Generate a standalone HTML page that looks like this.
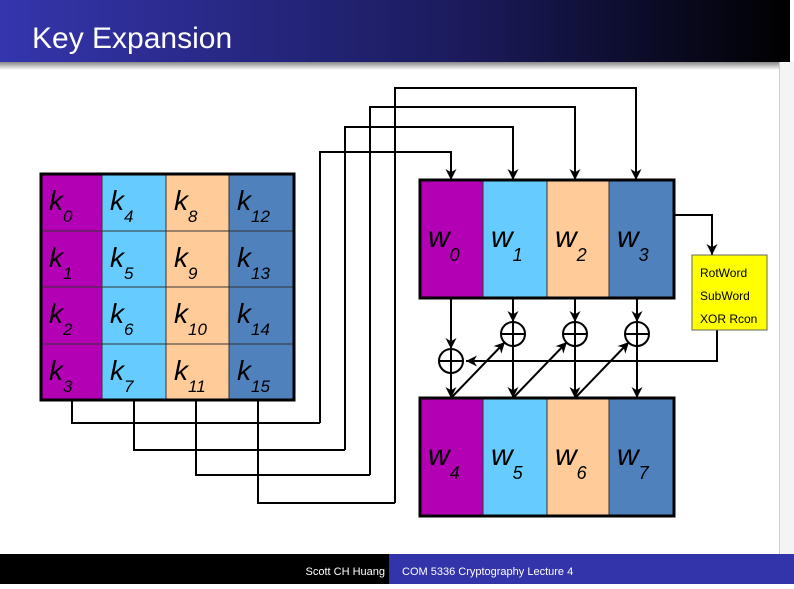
<!DOCTYPE html>
<html><head><meta charset="utf-8"><style>
body{margin:0;width:794px;height:584px;overflow:hidden;background:#fff;font-family:"Liberation Sans",sans-serif}
</style></head><body>
<svg width="794" height="584" xmlns="http://www.w3.org/2000/svg">
<defs>
<linearGradient id="hg" x1="0" x2="1"><stop offset="0" stop-color="#3535ad"/><stop offset="0.6" stop-color="#1a1a5a"/><stop offset="1" stop-color="#000"/></linearGradient>
<linearGradient id="sh" x1="0" y1="0" x2="0" y2="1"><stop offset="0" stop-color="#888"/><stop offset="1" stop-color="#fff"/></linearGradient>
<marker id="ar" viewBox="0 0 10 10" refX="10" refY="5" markerWidth="11" markerHeight="11" orient="auto-start-reverse" markerUnits="userSpaceOnUse"><path d="M0,0 L10,5 L0,10 L3,5 z" fill="#000"/></marker>
</defs>
<rect x="0" y="62" width="794" height="8" fill="url(#sh)"/>
<rect x="0" y="0" width="790" height="62" fill="url(#hg)"/>
<text x="32" y="48" fill="#fff" font-size="30" font-family="Liberation Sans,sans-serif">Key Expansion</text>
<rect x="780" y="62" width="14" height="492" fill="#f4f4f4"/>
<line x1="779.5" y1="62" x2="779.5" y2="554" stroke="#ccc"/>
<g id="kg"></g>
<g id="wg"></g>
<g fill="none" stroke="#000" stroke-width="2">
<polyline points="320,423 320,152 451,152 451,180" marker-end="url(#ar)"/>
<polyline points="345,450 345,127 513,127 513,180" marker-end="url(#ar)"/>
<polyline points="370,475 370,107 575,107 575,180" marker-end="url(#ar)"/>
<polyline points="395,503 395,88 636,88 636,180" marker-end="url(#ar)"/>
<polyline points="72,400 72,423 320,423"/>
<polyline points="134,400 134,450 345,450"/>
<polyline points="196,400 196,475 370,475"/>
<polyline points="258,400 258,503 395,503"/>
<polyline points="675,215 712,215 712,255" marker-end="url(#ar)"/>
<polyline points="717,330 717,361 466,361" marker-end="url(#ar)"/>
<line x1="451" y1="298" x2="451" y2="349" marker-end="url(#ar)"/>
<line x1="451" y1="373" x2="451" y2="398" marker-end="url(#ar)"/>
<line x1="513" y1="298" x2="513" y2="322" marker-end="url(#ar)"/>
<line x1="575" y1="298" x2="575" y2="322" marker-end="url(#ar)"/>
<line x1="637" y1="298" x2="637" y2="322" marker-end="url(#ar)"/>
<line x1="513" y1="346" x2="513" y2="398" marker-end="url(#ar)"/>
<line x1="575" y1="346" x2="575" y2="398" marker-end="url(#ar)"/>
<line x1="637" y1="346" x2="637" y2="398" marker-end="url(#ar)"/>
<line x1="451" y1="398" x2="505" y2="342" marker-end="url(#ar)"/>
<line x1="513" y1="398" x2="567" y2="342" marker-end="url(#ar)"/>
<line x1="575" y1="398" x2="629" y2="342" marker-end="url(#ar)"/>
</g>
<g id="xors"></g>
<rect x="692" y="255" width="75" height="75" fill="#ffff00" stroke="#666"/>
<text x="700" y="277" font-size="12">RotWord</text>
<text x="700" y="300" font-size="12">SubWord</text>
<text x="700" y="323" font-size="12">XOR Rcon</text>
<rect x="0" y="554" width="389" height="30" fill="#000"/>
<rect x="389" y="554" width="405" height="30" fill="#3333aa"/>
<text x="385" y="575" fill="#fff" font-size="11" text-anchor="end">Scott CH Huang</text>
<text x="402" y="575" fill="#fff" font-size="11">COM 5336 Cryptography Lecture 4</text>
</svg>
<script>
const colors=["#b400b4","#66ccff","#ffcc99","#4f81bd"];
const NS="http://www.w3.org/2000/svg";
function mk(t,a,p){const e=document.createElementNS(NS,t);for(const k in a)e.setAttribute(k,a[k]);p.appendChild(e);return e;}
const kg=document.getElementById('kg');
const kx=[41,102,166,229,294], ky=[174,231,287,344,400];
for(let c=0;c<4;c++)for(let r=0;r<4;r++){
 const rc=mk('rect',{x:kx[c],y:ky[r],width:kx[c+1]-kx[c],height:ky[r+1]-ky[r],fill:colors[c],stroke:'#333','stroke-width':1},kg);
 
 
 const t=mk('text',{x:kx[c]+8,y:ky[r]+36,'font-size':28,'font-style':'italic'},kg);
 
 
 t.innerHTML='k<tspan font-size="17" dy="12">'+(c*4+r)+'</tspan>';
}
mk('rect',{x:41,y:174,width:253,height:226,fill:'none',stroke:'#000','stroke-width':3},kg);
const wg=document.getElementById('wg');
const wx=[420,483,547,609,674];
[[180,298,0],[398,516,4]].forEach(([y0,y1,base])=>{
 for(let c=0;c<4;c++){
  const rc=mk('rect',{x:wx[c],y:y0,width:wx[c+1]-wx[c],height:y1-y0,fill:colors[c],stroke:'#333','stroke-width':1},wg);
  
  
  const t=mk('text',{x:wx[c]+8,y:y0+(y1-y0)/2+8,'font-size':30,'font-style':'italic'},wg);
  
  
  t.innerHTML='w<tspan font-size="18" dy="14">'+(base+c)+'</tspan>';
 }
 mk('rect',{x:420,y:y0,width:254,height:y1-y0,fill:'none',stroke:'#000','stroke-width':3},wg);
});
const xg=document.getElementById('xors');
[[451,361],[513,334],[575,334],[637,334]].forEach(([cx,cy])=>{
 const c=mk('circle',{cx:cx,cy:cy,r:12,fill:'#fff',stroke:'#000','stroke-width':2},xg);
 
 
 mk('line',{x1:cx-12,y1:cy,x2:cx+12,y2:cy,stroke:'#000','stroke-width':2},xg);
 mk('line',{x1:cx,y1:cy-12,x2:cx,y2:cy+12,stroke:'#000','stroke-width':2},xg);
});
</script>
</body></html>
